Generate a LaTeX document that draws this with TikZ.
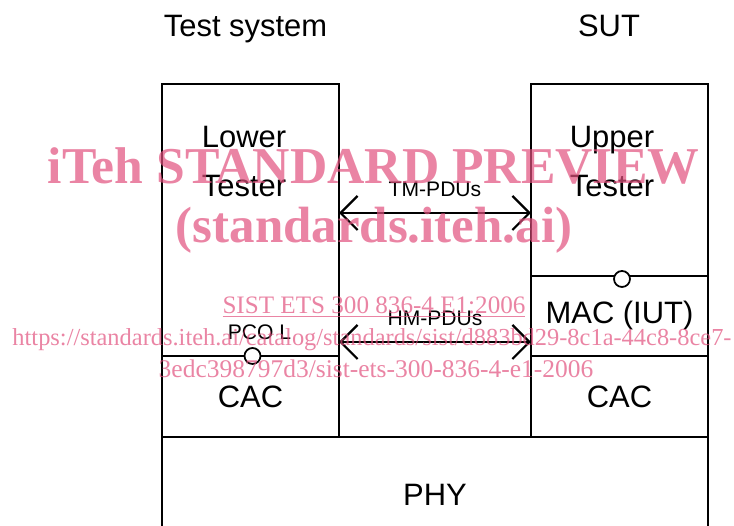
\documentclass[tikz,border=0pt]{standalone}
\usepackage{fontspec}
\setmainfont{Liberation Sans}
\newfontfamily\wmfont{Liberation Serif}
\usetikzlibrary{positioning,calc,arrows.meta}
\definecolor{wmpink}{RGB}{225,80,125}

\begin{document}
\begin{tikzpicture}[
    box/.style={rectangle, draw, line width=1pt, minimum width=3.54cm, inner sep=0pt, outer sep=0pt, font=\fontsize{17.6}{27.9}\selectfont},
    txt/.style={inner sep=0pt, align=center, font=\fontsize{17.6}{27.9}\selectfont},
    port/.style={circle, draw, line width=1pt, fill=white, minimum size=0.32cm, inner sep=0pt},
    lbl/.style={inner sep=0pt, font=\fontsize{12}{14}\selectfont},
    pdu/.style={{Straight Barb[length=0.34cm, width=0.68cm]}-{Straight Barb[length=0.34cm, width=0.68cm]}, line width=1.3pt},
    wmark/.style={wmpink, opacity=0.7, anchor=base, inner sep=0pt}
]
    \useasboundingbox (0,0) rectangle (14.68,10.52);
    \clip (0,0) rectangle (14.68,10.52);

    % Test system side
    \node[box, anchor=north west, minimum height=5.44cm] (lt) at (3.24,8.84) {};
    \node[box, below=0pt of lt, minimum height=1.62cm] (lcac) {CAC};

    % SUT side
    \node[box, anchor=north west, minimum height=3.84cm] (ut) at (10.62,8.84) {};
    \node[box, below=0pt of ut, minimum height=1.60cm] (mac) {MAC (IUT)};
    \node[box, below=0pt of mac, minimum height=1.62cm] (rcac) {CAC};

    % PHY (runs off the bottom)
    \node[box, anchor=north west, minimum width=10.92cm, minimum height=2.32cm] (phy) at (lcac.south west) {PHY};

    % Headings and tester names
    \node[txt, anchor=base] (tsys) at (4.91,9.78) {Test system};
    \node[txt, anchor=base] (sut) at (12.18,9.78) {SUT};
    \node[txt, anchor=base] (ltx) at ($(lt.north)+(-0.13,-2.26)$) {Lower\\Tester};
    \node[txt, anchor=base] (utx) at ($(ut.north)+(-0.15,-2.26)$) {Upper\\Tester};

    % Points of control and observation
    \node[port] (pcol) at ([xshift=0.04cm]lcac.north) {};
    \node[port] (pcou) at ([xshift=0.05cm, yshift=-0.06cm]mac.north) {};
    \node[lbl, above=0.14cm of pcol, xshift=0.14cm] (pcolx) {PCO L};

    % PDU exchanges
    \coordinate (tm) at (8.7,6.26);
    \coordinate (hm) at (8.7,3.68);
    \draw[pdu] (lt.east |- tm) -- (ut.west |- tm) node[lbl, midway, above=0.3cm] (tmx) {TM-PDUs};
    \draw[pdu] (lt.east |- hm) -- (mac.west |- hm) node[lbl, midway, above=0.3cm] (hmx) {HM-PDUs};

    % Watermark
    \node[wmark, font=\wmfont\bfseries\fontsize{29.4}{30}\selectfont] (wm1) at (7.47,6.84) {iTeh STANDARD PREVIEW};
    \node[wmark, font=\wmfont\bfseries\fontsize{29}{30}\selectfont] (wm2) at (7.48,5.66) {(standards.iteh.ai)};
    \node[wmark, font=\wmfont\fontsize{14.3}{16}\selectfont] (wm3) at (7.48,4.24) {\underline{SIST ETS 300 836-4 E1:2006}};
    \node[wmark, font=\wmfont\fontsize{13.9}{16}\selectfont] (wm4) at (7.44,3.60) {https://standards.iteh.ai/catalog/standards/sist/d883bd29-8c1a-44c8-8ce7-};
    \node[wmark, font=\wmfont\fontsize{14.5}{16}\selectfont] (wm5) at (7.52,2.96) {3edc398797d3/sist-ets-300-836-4-e1-2006};
\end{tikzpicture}
\end{document}
